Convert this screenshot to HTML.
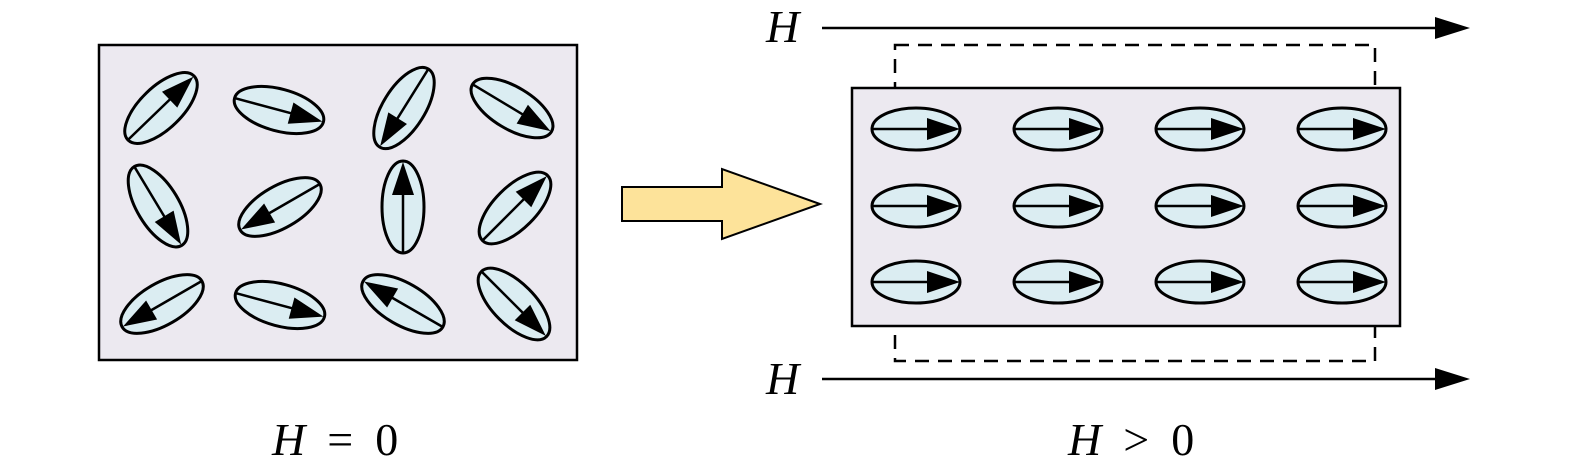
<!DOCTYPE html>
<html><head><meta charset="utf-8"><style>html,body{margin:0;padding:0;background:#fff}svg{display:block}</style></head>
<body>
<svg width="1575" height="472" viewBox="0 0 1575 472" xmlns="http://www.w3.org/2000/svg">
<defs>
<g id="m">
<ellipse cx="0" cy="0" rx="46" ry="21" fill="#dbedf2" stroke="#000" stroke-width="3"/>
<line x1="-45" y1="0" x2="20" y2="0" stroke="#000" stroke-width="2.5"/>
<polygon points="45,0 12,-11 12,11" fill="#000"/>
</g>
<g id="h">
<ellipse cx="0" cy="0" rx="44" ry="21" fill="#dbedf2" stroke="#000" stroke-width="3"/>
<line x1="-44" y1="0" x2="14" y2="0" stroke="#000" stroke-width="2.5"/>
<polygon points="44,0 11,-11 11,11" fill="#000"/>
</g>
</defs>
<rect x="99" y="45" width="478" height="315" fill="#ece9f0" stroke="#000" stroke-width="2.5"/>
<use href="#m" transform="translate(161,108) rotate(-44)"/>
<use href="#m" transform="translate(279,110) rotate(15)"/>
<use href="#m" transform="translate(404,108) rotate(122)"/>
<use href="#m" transform="translate(512,108) rotate(31)"/>
<use href="#m" transform="translate(158,206) rotate(59)"/>
<use href="#m" transform="translate(280,207) rotate(150)"/>
<use href="#m" transform="translate(403,207) rotate(-90)"/>
<use href="#m" transform="translate(515,208) rotate(-45)"/>
<use href="#m" transform="translate(162,304) rotate(150)"/>
<use href="#m" transform="translate(280,305) rotate(15)"/>
<use href="#m" transform="translate(403,304) rotate(-150)"/>
<use href="#m" transform="translate(514,304) rotate(45)"/>

<polygon points="622,187 722,187 722,169 820,204 722,239 722,221 622,221" fill="#fde39a" stroke="#000" stroke-width="2"/>

<rect x="895" y="45" width="480" height="316" fill="none" stroke="#000" stroke-width="2.5" stroke-dasharray="14,9"/>
<rect x="852" y="88" width="548" height="238" fill="#ece9f0" stroke="#000" stroke-width="2.5"/>
<g>
<use href="#h" transform="translate(916,129)"/><use href="#h" transform="translate(1058,129)"/><use href="#h" transform="translate(1200,129)"/><use href="#h" transform="translate(1342,129)"/>
<use href="#h" transform="translate(916,206)"/><use href="#h" transform="translate(1058,206)"/><use href="#h" transform="translate(1200,206)"/><use href="#h" transform="translate(1342,206)"/>
<use href="#h" transform="translate(916,282)"/><use href="#h" transform="translate(1058,282)"/><use href="#h" transform="translate(1200,282)"/><use href="#h" transform="translate(1342,282)"/>
</g>
<line x1="822" y1="28" x2="1440" y2="28" stroke="#000" stroke-width="2.5"/>
<polygon points="1470,28 1435,17 1435,39" fill="#000"/>
<line x1="822" y1="379" x2="1440" y2="379" stroke="#000" stroke-width="2.5"/>
<polygon points="1470,379 1435,368 1435,390" fill="#000"/>

<g font-family="Liberation Serif, serif" font-size="46" fill="#000">
<text x="766" y="42" font-style="italic">H</text>
<text x="766" y="394" font-style="italic">H</text>
<text x="272" y="455"><tspan font-style="italic">H</tspan><tspan dx="22">=</tspan><tspan dx="22">0</tspan></text>
<text x="1068" y="455"><tspan font-style="italic">H</tspan><tspan dx="22">&gt;</tspan><tspan dx="22">0</tspan></text>
</g>
</svg>
</body></html>
